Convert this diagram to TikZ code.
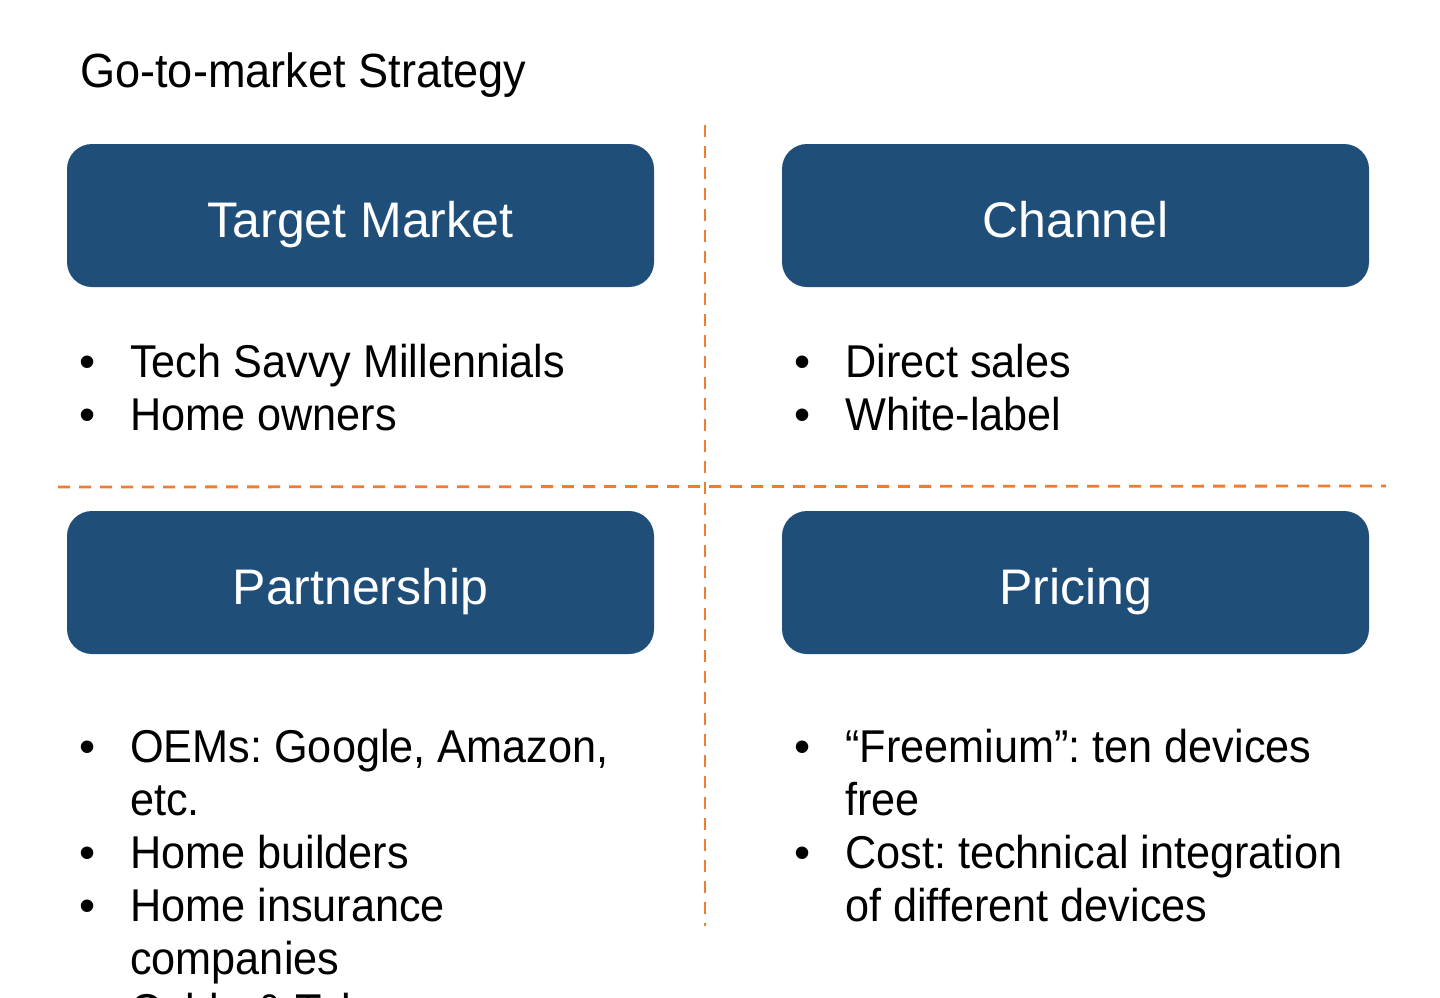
\documentclass[tikz,border=0pt]{standalone}
\usepackage{fontspec}
\setmainfont{Liberation Sans}
\newfontfamily\bodyfont[FakeStretch=0.94]{Liberation Sans}
\definecolor{boxblue}{HTML}{1F4E79}
\definecolor{dashorange}{HTML}{ED7D31}
\frenchspacing
\begin{document}
\begin{tikzpicture}[x=1pt,y=-1pt,
  headbox/.style={fill=boxblue, rounded corners=25pt, draw=none},
  headtext/.style={anchor=base, inner sep=0pt, text=white, font=\fontsize{50}{58}\selectfont},
  bodytext/.style={anchor=base west, inner sep=0pt, font=\bodyfont\fontsize{46}{53}\selectfont},
  bulletmark/.style={anchor=base, inner sep=0pt, font=\fontsize{46}{53}\selectfont},
  sepline/.style={draw=dashorange, line width=2.8pt, dash pattern=on 12pt off 9pt}
]
\clip (0,0) rectangle (1440,997);
\fill[white] (0,0) rectangle (1440,997);

% title
\node[bodytext, font=\bodyfont\fontsize{48}{53}\selectfont] (title) at (80,87) {Go-to-market Strategy};

% separators
\coordinate (vtop) at (705,125);
\coordinate (vbot) at (705,926);
\coordinate (hleft) at (58,487);
\coordinate (hright) at (1386,486);
\draw[sepline] (vtop) -- (vbot);
\draw[sepline] (hleft) -- (hright);

% header boxes
\fill[headbox] (67,144) rectangle (654,287);
\fill[headbox] (782,144) rectangle (1369,287);
\fill[headbox] (67,511) rectangle (654,654);
\fill[headbox] (782,511) rectangle (1369,654);
\node[headtext] (h1) at (360.5,237) {Target Market};
\node[headtext] (h2) at (1075.5,237) {Channel};
\node[headtext] (h3) at (360.5,604) {Partnership};
\node[headtext] (h4) at (1075.5,604) {Pricing};

% target market bullets
\node[bulletmark] (b11) at (88,377) {•};
\node[bodytext] (t11) at (130,377) {Tech Savvy Millennials};
\node[bulletmark] (b12) at (88,430) {•};
\node[bodytext] (t12) at (130,430) {Home owners};

% channel bullets
\node[bulletmark] (b21) at (803,377) {•};
\node[bodytext] (t21) at (845,377) {Direct sales};
\node[bulletmark] (b22) at (803,430) {•};
\node[bodytext] (t22) at (845,430) {White-label};

% partnership bullets
\node[bulletmark] (b31) at (88,762) {•};
\node[bodytext] (t31) at (130,762) {OEMs: Google, Amazon,};
\node[bodytext] (t31b) at (130,815) {etc.};
\node[bulletmark] (b32) at (88,868) {•};
\node[bodytext] (t32) at (130,868) {Home builders};
\node[bulletmark] (b33) at (88,921) {•};
\node[bodytext] (t33) at (130,921) {Home insurance};
\node[bodytext] (t33b) at (130,974) {companies};
\node[bulletmark] (b34) at (88,1026) {•};
\node[bodytext] (t34) at (130,1026) {Cable \& Telco};

% pricing bullets
\node[bulletmark] (b41) at (803,762) {•};
\node[bodytext] (t41) at (845,762) {“Freemium”: ten devices};
\node[bodytext] (t41b) at (845,815) {free};
\node[bulletmark] (b42) at (803,868) {•};
\node[bodytext] (t42) at (845,868) {Cost: technical integration};
\node[bodytext] (t42b) at (845,921) {of different devices};
\end{tikzpicture}
\end{document}
